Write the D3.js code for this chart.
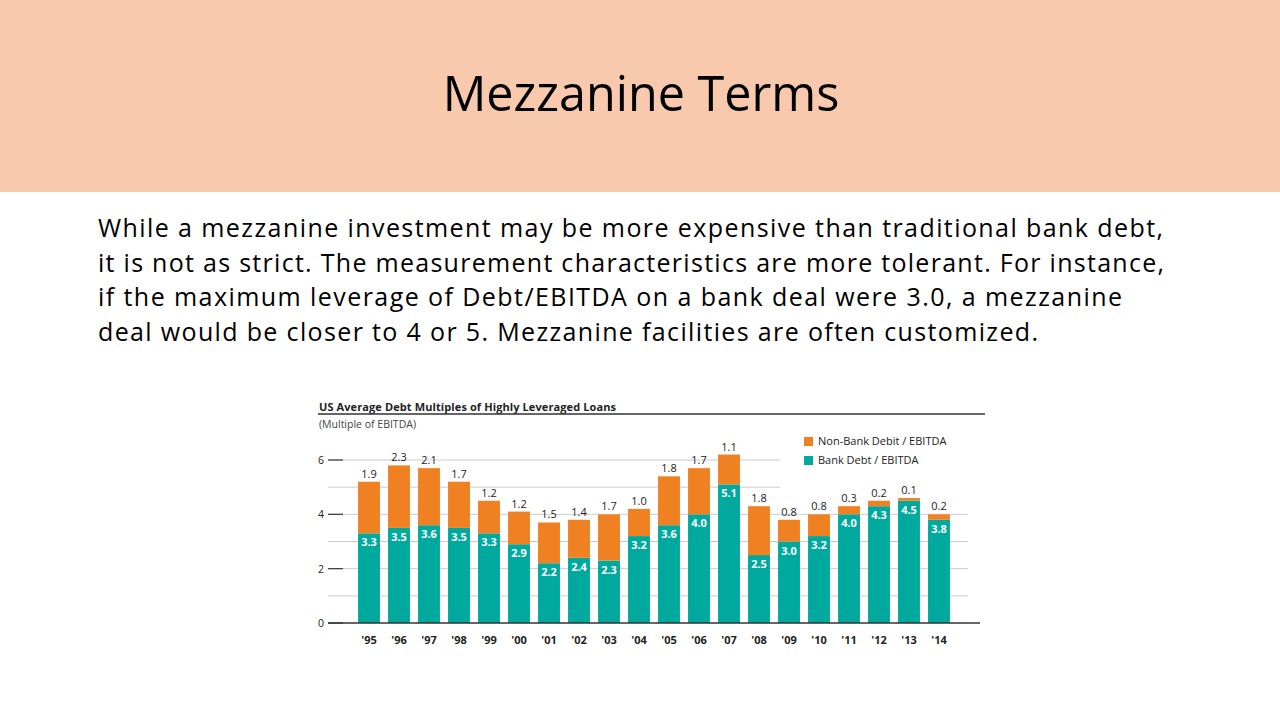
<!DOCTYPE html>
<html><head><meta charset="utf-8">
<script src="https://cdn.jsdelivr.net/npm/d3@7"></script>
<style>body{margin:0;background:#fff}svg{display:block}</style>
</head><body>
<script>
const years=["'95","'96","'97","'98","'99","'00","'01","'02","'03","'04","'05","'06","'07","'08","'09","'10","'11","'12","'13","'14"];
const bank=[3.3,3.5,3.6,3.5,3.3,2.9,2.2,2.4,2.3,3.2,3.6,4.0,5.1,2.5,3.0,3.2,4.0,4.3,4.5,3.8];
const nonBank=[1.9,2.3,2.1,1.7,1.2,1.2,1.5,1.4,1.7,1.0,1.8,1.7,1.1,1.8,0.8,0.8,0.3,0.2,0.1,0.2];
const yTicks=[0,2,4,6];
const bodyLines=["While a mezzanine investment may be more expensive than traditional bank debt,","it is not as strict. The measurement characteristics are more tolerant. For instance,","if the maximum leverage of Debt/EBITDA on a bank deal were 3.0, a mezzanine","deal would be closer to 4 or 5. Mezzanine facilities are often customized."];
const bodyWidths=[1065,1066,1024,940];
const legendItems=[{name:"Non-Bank Debit / EBITDA",c:"#F08122"},{name:"Bank Debt / EBITDA",c:"#00A99D"}];

const svg=d3.select("body").append("svg").attr("width",1280).attr("height",720);
svg.append("rect").attr("width",1280).attr("height",192).attr("fill","#F8C9AD");
svg.append("text").attr("x",641).attr("y",111).attr("text-anchor","middle").attr("font-family","Open Sans, sans-serif").attr("font-size",48.5).attr("fill","#000").text("Mezzanine Terms");
bodyLines.forEach((l,i)=>svg.append("text").attr("x",98).attr("y",237+i*34.7).attr("font-family","Open Sans, sans-serif").attr("font-size",25).attr("textLength",bodyWidths[i]).attr("lengthAdjust","spacing").attr("fill","#000").text(l));

const F="Open Sans, sans-serif";
const g=svg.append("g");
g.append("text").attr("x",319).attr("y",411).attr("font-family",F).attr("font-size",11).attr("font-weight","bold").attr("fill","#222").attr("textLength",297).text("US Average Debt Multiples of Highly Leveraged Loans");
g.append("line").attr("x1",318).attr("x2",985).attr("y1",414).attr("y2",414).attr("stroke","#333").attr("stroke-width",1.3);
g.append("text").attr("x",319).attr("y",428).attr("font-family",F).attr("font-size",10.5).attr("fill","#444").text("(Multiple of EBITDA)");

const x=d3.scaleBand().domain(years).range([354,954]).paddingInner(0.27).paddingOuter(0.135);
const y=d3.scaleLinear().domain([0,6]).range([623,460]);
[1,2,3,4,5,6].forEach(v=>{
  g.append("line").attr("x1",328).attr("x2",v>=5?780:968).attr("y1",y(v)).attr("y2",y(v)).attr("stroke","#ccc").attr("stroke-width",1);
});
const ax=g.append("g").attr("transform","translate(328,0)").call(d3.axisLeft(y).tickValues(yTicks).tickFormat(d3.format("d")).tickSize(0).tickPadding(4));
ax.select(".domain").remove();
ax.selectAll("text").attr("font-family",F).attr("font-size",10.5).attr("fill","#222");
yTicks.forEach(v=>g.append("line").attr("x1",328).attr("x2",343).attr("y1",y(v)).attr("y2",y(v)).attr("stroke","#444").attr("stroke-width",1.3));
g.selectAll(".b").data(years).join("rect").attr("x",d=>x(d)).attr("width",x.bandwidth()).attr("y",(d,i)=>y(bank[i])).attr("height",(d,i)=>y(0)-y(bank[i])).attr("fill","#00A99D");
g.selectAll(".n").data(years).join("rect").attr("x",d=>x(d)).attr("width",x.bandwidth()).attr("y",(d,i)=>y(bank[i]+nonBank[i])).attr("height",(d,i)=>y(bank[i])-y(bank[i]+nonBank[i])).attr("fill","#F08122");
g.append("line").attr("x1",328).attr("x2",980).attr("y1",y(0)).attr("y2",y(0)).attr("stroke","#333").attr("stroke-width",1.5);
years.forEach((d,i)=>{
  const cx=x(d)+x.bandwidth()/2;
  g.append("text").attr("x",cx).attr("y",y(bank[i])+13).attr("text-anchor","middle").attr("font-family",F).attr("font-size",11).attr("font-weight","bold").attr("fill","#fff").text(bank[i].toFixed(1));
  g.append("text").attr("x",cx).attr("y",y(bank[i]+nonBank[i])-4).attr("text-anchor","middle").attr("font-family",F).attr("font-size",11).attr("fill","#222").text(nonBank[i].toFixed(1));
  g.append("text").attr("x",cx).attr("y",644).attr("text-anchor","middle").attr("font-family",F).attr("font-size",11).attr("font-weight","bold").attr("fill","#222").text(d);
});
legendItems.forEach((it,i)=>{
  g.append("rect").attr("x",804).attr("y",437+i*19).attr("width",9).attr("height",9).attr("fill",it.c);
  g.append("text").attr("x",818).attr("y",445+i*19).attr("font-family",F).attr("font-size",11).attr("fill","#222").text(it.name);
});
</script>
</body></html>
